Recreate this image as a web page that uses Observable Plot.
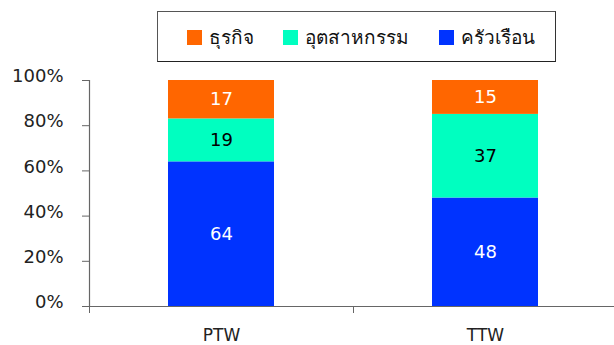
<!DOCTYPE html>
<html>
<head>
<meta charset="utf-8">
<script src="https://cdn.jsdelivr.net/npm/d3@7"></script>
<script src="https://cdn.jsdelivr.net/npm/@observablehq/plot@0.6"></script>
<style>
  html, body { margin: 0; padding: 0; background: #fff; }
  #wrap { position: relative; width: 614px; height: 345px; overflow: hidden; font-family: "DejaVu Sans", "Noto Sans", sans-serif; }
  #legend { position: relative; height: 68px; }
  #box { position: absolute; left: 157px; top: 11px; width: 397px; height: 49px; border: 1px solid #555; border-right-color: #333; border-bottom-color: #222; }
  .item { position: absolute; top: 18px; display: flex; align-items: center; font-size: 19px; color: #111; line-height: 15px; }
  .sw { width: 15px; height: 15px; margin-right: 7px; }
</style>
</head>
<body>
<div id="wrap">
  <div id="legend"><div id="box"></div></div>
  <div id="chart"></div>
</div>
<script>
// ---- data ----
const categories = ["PTW", "TTW"];
const series = ["ครัวเรือน", "อุตสาหกรรม", "ธุรกิจ"];   // bottom to top
const colors = ["#0033FF", "#00FFC0", "#FF6600"];
const labelColors = ["white", "black", "white"];
const householdValues = [64, 48];
const industryValues = [19, 37];
const businessValues = [17, 15];
const yTicks = [0, 20, 40, 60, 80, 100];
const legendOrder = ["ธุรกิจ", "อุตสาหกรรม", "ครัวเรือน"];

// ---- build table ----
const valuesBySeries = [householdValues, industryValues, businessValues];
const rows = [];
categories.forEach((cat, i) => {
  let acc = 0;
  series.forEach((s, k) => {
    const v = valuesBySeries[k][i];
    rows.push({cat, i, series: s, k, value: v, y1: acc, y2: acc + v, ym: acc + v / 2});
    acc += v;
  });
});

// ---- legend (HTML) ----
const box = document.getElementById("box");
const itemLeft = [29, 125, 281];
legendOrder.forEach((s, j) => {
  const el = document.createElement("div");
  el.className = "item";
  el.style.left = itemLeft[j] + "px";
  const sw = document.createElement("div");
  sw.className = "sw";
  sw.style.background = colors[series.indexOf(s)];
  const tx = document.createElement("span");
  tx.textContent = s;
  el.appendChild(sw); el.appendChild(tx);
  box.appendChild(el);
});

// ---- chart ----
const axisColor = "#666";
const chart = Plot.plot({
  width: 614,
  height: 277,
  marginTop: 12,
  marginBottom: 39,
  marginLeft: 89,
  marginRight: 0,
  style: {fontFamily: "DejaVu Sans, Noto Sans, sans-serif", fontSize: "18px", color: "#222", background: "white", overflow: "visible"},
  x: {type: "linear", domain: [0, categories.length], range: [89, 617], axis: null},
  y: {domain: [0, 100], axis: null},
  color: {domain: series, range: colors},
  marks: [
    Plot.rectY(rows, {x1: d => d.i, x2: d => d.i + 1, y1: "y1", y2: "y2", fill: "series", insetLeft: 79, insetRight: 79}),
    Plot.ruleY([0], {stroke: axisColor, strokeWidth: 1.2}),
    Plot.ruleX([0], {y1: 0, y2: 100, stroke: axisColor, strokeWidth: 1.2}),
    Plot.axisY({ticks: yTicks, tickSize: 7, tickFormat: () => "", stroke: axisColor, label: null}),
    Plot.axisY({ticks: yTicks, tickSize: 0, tickPadding: 26, tickFormat: d => d + "%", fontSize: 18, label: null, fill: "#222", dy: -4}),
    Plot.axisX({ticks: d3.range(categories.length + 1), tickSize: 7, tickFormat: () => "", stroke: axisColor, label: null}),
    Plot.axisX({ticks: categories.map((c, i) => i + 0.5), tickSize: 0, tickPadding: 22, tickFormat: d => categories[Math.floor(d)], fontSize: 17, label: null, fill: "#222"}),
    Plot.text(rows.filter(d => labelColors[d.k] === "white"), {x: d => d.i + 0.5, y: "ym", text: d => String(d.value), fill: "white", fontSize: 18}),
    Plot.text(rows.filter(d => labelColors[d.k] === "black"), {x: d => d.i + 0.5, y: "ym", text: d => String(d.value), fill: "black", fontSize: 18})
  ]
});
document.getElementById("chart").appendChild(chart);
</script>
</body>
</html>
